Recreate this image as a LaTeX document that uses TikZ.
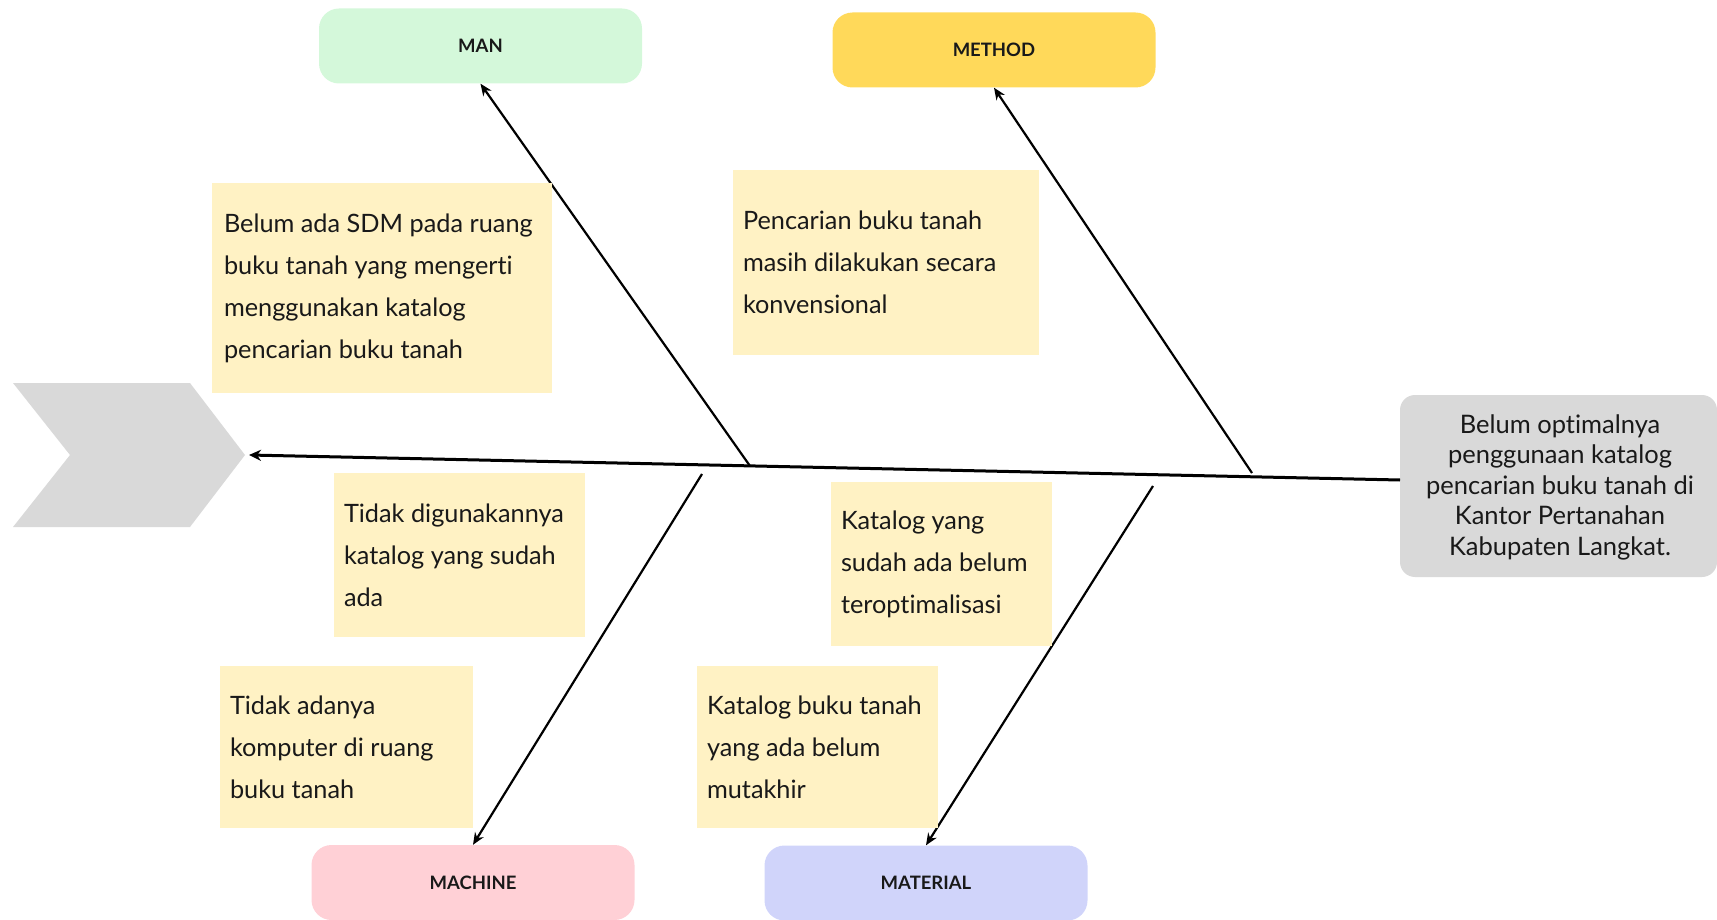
\documentclass[tikz,border=0pt]{standalone}
\usepackage{fontspec}
\setmainfont{Lato}[Ligatures=NoCommon]
\usetikzlibrary{arrows.meta}
\definecolor{mangreen}{RGB}{212,248,218}
\definecolor{methodyellow}{RGB}{255,217,90}
\definecolor{machinepink}{RGB}{255,208,214}
\definecolor{materialblue}{RGB}{208,212,250}
\definecolor{noteyellow}{RGB}{255,242,196}
\definecolor{effectgray}{RGB}{217,217,217}
\definecolor{inkc}{RGB}{25,25,25}
\tikzset{
  catbox/.style={rounded corners=20pt, minimum width=323pt, minimum height=75pt, inner sep=0pt, text=inkc, font=\fontsize{18.5}{22}\selectfont\bfseries},
  notebox/.style={fill=noteyellow, inner sep=0pt},
  notetext/.style={anchor=west, align=left, inner sep=0pt, text=inkc, font=\fontsize{25.3}{42}\selectfont},
  bone/.style={line width=2.2pt, draw=black, -{Stealth[length=12pt,width=10pt]}},
  spine/.style={line width=3pt, draw=black, -{Stealth[length=12pt,width=11pt]}},
}
\begin{document}
\begin{tikzpicture}[x=1pt,y=-1pt]
\useasboundingbox (0,0) rectangle (1717,920);
% head chevron
\fill[effectgray] (13,383) -- (190,383) -- (245,455) -- (190,527) -- (13,527) -- (70,455) -- cycle;
\coordinate (tip) at (249,455);
% effect box
\node[fill=effectgray, rounded corners=15pt, minimum width=317pt, minimum height=182pt, inner sep=0pt] (effect) at (1558.5,486) {};
\node[align=center, inner sep=0pt, text=inkc, font=\fontsize{25.5}{30.5}\selectfont] (effecttext) at (1560,487) {Belum optimalnya\\penggunaan katalog\\pencarian buku tanah di\\Kantor Pertanahan\\Kabupaten Langkat.};
\coordinate (tail) at (1400,480);
% category boxes
\node[catbox, fill=mangreen] (man) at (480.5,46) {MAN};
\node[catbox, fill=methodyellow] (method) at (994,50) {METHOD};
\node[catbox, fill=machinepink] (machine) at (473,882.5) {MACHINE};
\node[catbox, fill=materialblue] (material) at (926,883) {MATERIAL};
% bone coordinates
\coordinate (manroot) at (750,466);
\coordinate (methodroot) at (1252,473);
\coordinate (machineroot) at (702,474);
\coordinate (materialroot) at (1153,486);
% spine and bones
\draw[spine] (tail) -- (tip);
\draw[bone] (manroot) -- (man.south);
\draw[bone] (methodroot) -- (method.south);
\draw[bone] (machineroot) -- (machine.north);
\draw[bone] (materialroot) -- (material.north);
% notes
\node[notebox, minimum width=340pt, minimum height=210pt] (n1) at (382,288) {};
\node[notetext] (t1) at ([xshift=12pt]n1.west) {Belum ada SDM pada ruang\\buku tanah yang mengerti\\menggunakan katalog\\pencarian buku tanah};
\node[notebox, minimum width=306pt, minimum height=185pt] (n2) at (886,262.5) {};
\node[notetext] (t2) at ([xshift=10pt]n2.west) {Pencarian buku tanah\\masih dilakukan secara\\konvensional};
\node[notebox, minimum width=251pt, minimum height=164pt] (n3) at (459.5,555) {};
\node[notetext] (t3) at ([xshift=10pt]n3.west) {Tidak digunakannya\\katalog yang sudah\\ada};
\node[notebox, minimum width=221pt, minimum height=164pt] (n4) at (941.5,564) {};
\node[notetext] (t4) at ([xshift=10pt]n4.west) {Katalog yang\\sudah ada belum\\teroptimalisasi};
\node[notebox, minimum width=253pt, minimum height=162pt] (n5) at (346.5,747) {};
\node[notetext] (t5) at ([xshift=10pt]n5.west) {Tidak adanya\\komputer di ruang\\buku tanah};
\node[notebox, minimum width=241pt, minimum height=162pt] (n6) at (817.5,747) {};
\node[notetext] (t6) at ([xshift=10pt]n6.west) {Katalog buku tanah\\yang ada belum\\mutakhir};
\end{tikzpicture}
\end{document}
